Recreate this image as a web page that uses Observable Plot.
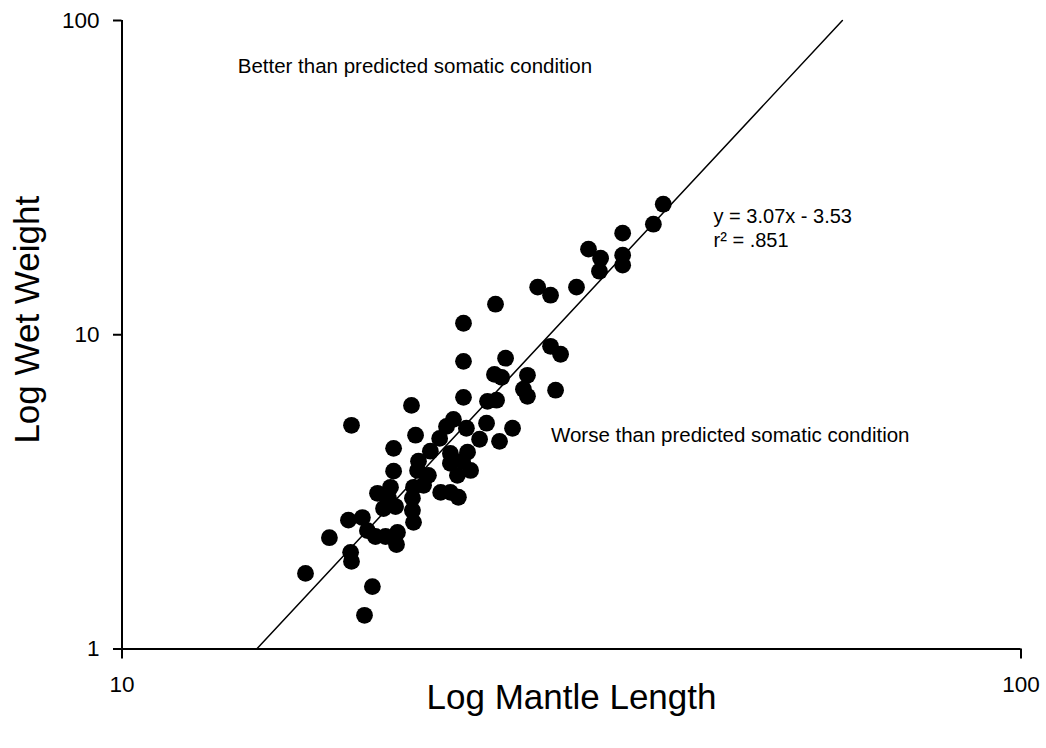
<!DOCTYPE html>
<html>
<head>
<meta charset="utf-8">
<script src="https://cdn.jsdelivr.net/npm/d3@7"></script>
<script src="https://cdn.jsdelivr.net/npm/@observablehq/plot@0.6"></script>
<style>
  html, body { margin: 0; padding: 0; background: #ffffff; }
  #chart svg { display: block; }
</style>
</head>
<body>
<div id="chart"></div>
<script>
// ---- Data ----
const mantleLength = [40.0, 39.0, 36.05, 36.05, 36.05, 33.03, 34.07, 33.97, 29.0, 29.97,
  32.03, 26.03, 23.98, 23.98, 26.71, 29.97, 30.75, 25.96, 26.44, 28.25,
  27.96, 28.25, 30.36, 23.98, 25.5, 26.1, 20.99, 18.0, 23.37, 22.96,
  24.16, 25.44, 27.19, 21.21, 22.56, 24.99, 26.3, 20.05, 22.03, 23.19,
  24.23, 21.37, 23.19, 23.92, 24.42, 23.61, 20.05, 21.32, 21.92, 21.1,
  21.65, 22.62, 23.19, 23.67, 19.24, 19.89, 19.79, 19.54, 20.15, 21.04,
  21.04, 21.1, 17.86, 18.51, 18.75, 19.14, 19.64, 20.25, 20.2, 17.01,
  17.96, 18.0, 16.0, 18.99, 18.61];
const wetWeight = [26.03, 22.48, 21.05, 17.92, 16.65, 18.72, 17.52, 15.93, 14.17, 13.36,
  14.17, 12.51, 10.88, 8.23, 8.42, 9.19, 8.67, 7.48, 7.32, 7.43,
  6.71, 6.37, 6.66, 6.32, 6.14, 6.19, 5.96, 5.15, 5.38, 5.11,
  5.04, 5.23, 5.04, 4.79, 4.68, 4.65, 4.58, 4.35, 4.26, 4.19,
  4.23, 3.96, 3.90, 3.96, 3.70, 3.57, 3.68, 3.70, 3.57, 3.27,
  3.32, 3.15, 3.15, 3.04, 3.13, 3.27, 3.02, 2.80, 2.84, 3.02,
  2.76, 2.53, 2.57, 2.62, 2.38, 2.28, 2.28, 2.35, 2.15, 2.26,
  2.03, 1.90, 1.74, 1.58, 1.28];

const xTicks = [10, 100];
const yTicks = [1, 10, 100];
const xTitle = "Log Mantle Length";
const yTitle = "Log Wet Weight";

// regression in log10 space: log(W) = 3.07 log(L) - 3.53
const slope = 3.07;
const intercept = -3.53;
const fitWeights = [1, 100];

const annotationText = ["Better than predicted somatic condition", "Worse than predicted somatic condition"];
const annotationX = [13.45, 30.0];
const annotationY = [71.6, 4.79];

const equationText = ["y = 3.07x - 3.53", "r\u00B2 = .851"];
const equationX = [45.5, 45.5];
const equationY = [23.85, 20.0];

// ---- Build tables ----
const points = mantleLength.map((x, i) => ({x, y: wetWeight[i]}));
const fitLine = fitWeights.map(w => ({y: w, x: Math.pow(10, (Math.log10(w) - intercept) / slope)}));
const annotations = annotationText.map((t, i) => ({t, x: annotationX[i], y: annotationY[i]}));
const equation = equationText.map((t, i) => ({t, x: equationX[i], y: equationY[i]}));

const font = "'Liberation Sans', Arial, Helvetica, sans-serif";

const chart = Plot.plot({
  width: 1046,
  height: 748,
  marginLeft: 121.5,
  marginRight: 25.5,
  marginTop: 20,
  marginBottom: 99.5,
  style: {fontFamily: font, background: "#ffffff", color: "#000000", overflow: "visible"},
  x: {type: "log", domain: [10, 100]},
  y: {type: "log", domain: [1, 100]},
  marks: [
    Plot.dot(points, {x: "x", y: "y", r: 8.4, fill: "#000000", stroke: "none"}),
    Plot.line(fitLine, {x: "x", y: "y", stroke: "#000000", strokeWidth: 1.5}),
    Plot.ruleX([10], {stroke: "#000000", strokeWidth: 2}),
    Plot.ruleY([1], {stroke: "#000000", strokeWidth: 2}),
    Plot.axisX({ticks: xTicks, tickFormat: d => String(d), tickSize: 10, tickPadding: 17,
      strokeWidth: 2, stroke: "#000000", fontSize: 22.5, fill: "#000000", label: null}),
    Plot.axisY({ticks: yTicks, tickFormat: d => String(d), tickSize: 8.5, tickPadding: 14,
      strokeWidth: 2, stroke: "#000000", fontSize: 22.5, fill: "#000000", label: null}),
    Plot.text([xTitle], {frameAnchor: "bottom", dy: 59.5, fontSize: 35, fill: "#000000"}),
    Plot.text([yTitle], {frameAnchor: "left", textAnchor: "middle", dx: -94, dy: -15, rotate: -90, fontSize: 35, fill: "#000000"}),
    Plot.text(annotations, {x: "x", y: "y", text: "t", textAnchor: "start", fontSize: 20.5, fill: "#000000"}),
    Plot.text(equation, {x: "x", y: "y", text: "t", textAnchor: "start", fontSize: 20, fill: "#000000"})
  ]
});

document.getElementById("chart").appendChild(chart);
</script>
</body>
</html>
